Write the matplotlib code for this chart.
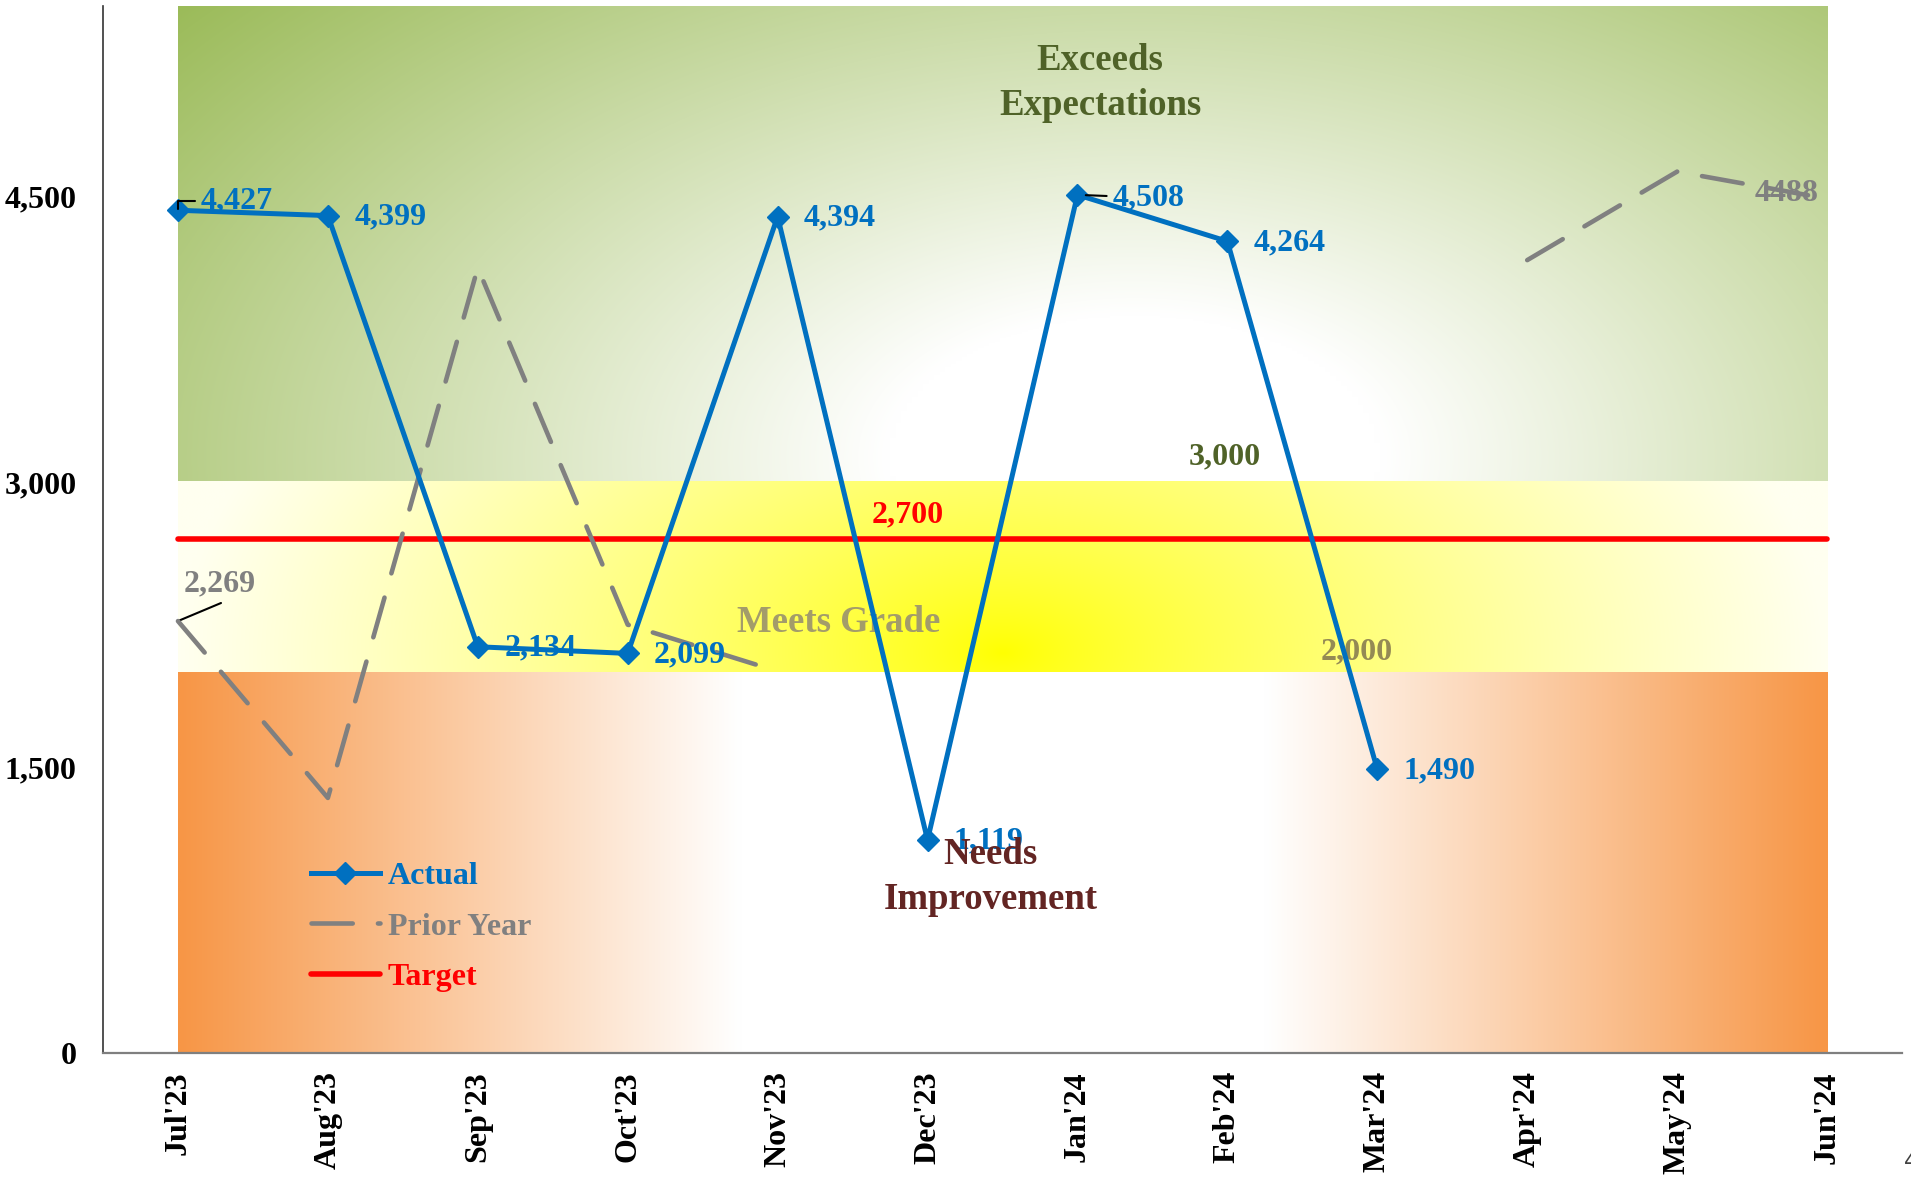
# Actual vs Prior Year vs Target with graded performance bands
import numpy as np
import matplotlib
matplotlib.use('Agg')
import matplotlib.pyplot as plt

# ---------------- data ----------------
months = ["Jul'23", "Aug'23", "Sep'23", "Oct'23", "Nov'23", "Dec'23",
          "Jan'24", "Feb'24", "Mar'24", "Apr'24", "May'24", "Jun'24"]
actual = [4427, 4399, 2134, 2099, 4394, 1119, 4508, 4264, 1490,
          np.nan, np.nan, np.nan]
prior_year = [2269, 1340, 4125, 2250, 2005, np.nan, np.nan, np.nan, np.nan,
              4165, 4630, 4488]
target = [2700] * 12
band_low = 2000      # needs improvement / meets grade
band_high = 3000     # meets grade / exceeds expectations
y_top = 5500
y_ticks = [0, 1500, 3000, 4500]

# ---------------- style ----------------
FONT = 'Liberation Serif'
plt.rcParams['font.family'] = [FONT, 'DejaVu Serif']
plt.rcParams['font.weight'] = 'bold'
FS = 23
BLUE = '#0070C0'
GREY = '#808080'
RED = '#FF0000'
GREEN = np.array([155, 187, 89]) / 255
ORANGE = np.array([247, 150, 70]) / 255
YELLOW = np.array([255, 255, 0]) / 255
PALE = np.array([255, 255, 240]) / 255
WHITE = np.array([1.0, 1.0, 1.0])

x = np.arange(len(months))

fig = plt.figure(figsize=(19.11, 11.81), dpi=100)
ax = fig.add_axes([103 / 1911, 128 / 1181, 1799 / 1911, 1047 / 1181])


# ---------------- gradient bands ----------------
def blend(c0, c1, t):
    return c0[None, None, :] * (1 - t[..., None]) + c1[None, None, :] * t[..., None]


n = 300
u, v = np.meshgrid(np.linspace(0, 1, n), np.linspace(0, 1, n))

# green: radial, white near the bottom middle
t = np.sqrt(((u - 0.58) / 0.75) ** 2 + ((v - 0.05) / 1.5) ** 2)
t = np.clip((t - 0.2) / 0.8, 0, 1)
ax.imshow(blend(WHITE, GREEN, t), extent=[0, 11, band_high, y_top],
          origin='lower', aspect='auto', zorder=0, interpolation='bilinear')

# yellow: bright in the middle, pale at the sides
t = np.sqrt(((u - 0.5) / 0.5) ** 2 + ((v - 0.1) / 2.5) ** 2)
t = np.clip(t, 0, 1) ** 0.8
ax.imshow(blend(YELLOW, PALE, t), extent=[0, 11, band_low, band_high],
          origin='lower', aspect='auto', zorder=0, interpolation='bilinear')

# orange: white in the middle, orange at the sides
t = np.clip((np.abs(u - 0.5) - 0.16) / 0.34, 0, 1)
ax.imshow(blend(WHITE, ORANGE, t), extent=[0, 11, 0, band_low],
          origin='lower', aspect='auto', zorder=0, interpolation='bilinear')

# ---------------- series ----------------
ax.plot(x, target, color=RED, lw=4, solid_capstyle='round', zorder=3, label='Target')
ax.plot(x, prior_year, color=GREY, lw=3.3, dashes=(9, 5.5), dash_capstyle='round',
        zorder=4, label='Prior Year')
ax.plot(x, actual, color=BLUE, lw=3.6, marker='D', ms=11, zorder=5, label='Actual')

# data labels - actual
for i, val in enumerate(actual):
    if np.isnan(val):
        continue
    txt = f'{val:,.0f}'
    if i == 0:
        ax.annotate(txt, (x[i], val), xytext=(16, 7), textcoords='offset points',
                    ha='left', va='center', color=BLUE, fontsize=FS, zorder=6,
                    arrowprops=dict(arrowstyle='-', color='black', lw=1.5,
                                    connectionstyle='angle,angleA=0,angleB=90,rad=0',
                                    shrinkA=2, shrinkB=1))
    elif i == 6:
        ax.annotate(txt, (x[i], val), xytext=(25, -2), textcoords='offset points',
                    ha='left', va='center', color=BLUE, fontsize=FS, zorder=6,
                    arrowprops=dict(arrowstyle='-', color='black', lw=1.5,
                                    shrinkA=2, shrinkB=6))
    else:
        ax.annotate(txt, (x[i], val), xytext=(19, -1), textcoords='offset points',
                    ha='left', va='center', color=BLUE, fontsize=FS, zorder=6)

# data labels - prior year (first and last only)
ax.annotate(f'{prior_year[0]:,.0f}', (x[0], prior_year[0]), xytext=(30, 27),
            textcoords='offset points', ha='center', va='center', color=GREY,
            fontsize=FS, zorder=2)
ax.annotate('', (x[0], prior_year[0]), xytext=(31, 13), textcoords='offset points',
            arrowprops=dict(arrowstyle='-', color='black', lw=1.5, shrinkA=0, shrinkB=0),
            zorder=2)
ax.annotate(f'{prior_year[-1]:.0f}', (x[-1], prior_year[-1]), xytext=(-6, 4),
            textcoords='offset points', ha='right', va='center', color=GREY,
            fontsize=FS, zorder=2)

# band / target labels
ax.text(6.98, 3132, f'{band_high:,}', color='#4F6228', fontsize=FS,
        ha='center', va='center', zorder=2)
ax.text(7.86, 2105, f'{band_low:,}', color='#948A54', fontsize=FS,
        ha='center', va='center', zorder=2)
ax.text(4.87, 2826, f'{target[0]:,}', color=RED, fontsize=FS,
        ha='center', va='center', zorder=2)
ax.text(4.41, 2263, 'Meets Grade', color='#A39C6A', fontsize=26.5,
        ha='center', va='center', zorder=2)
ax.text(6.15, 5095, 'Exceeds\nExpectations', color='#4F6228', fontsize=26.5,
        ha='center', va='center', linespacing=1.4, zorder=2)
ax.text(5.42, 925, 'Needs\nImprovement', color='#632523', fontsize=26.5,
        ha='center', va='center', linespacing=1.4, zorder=7)

# ---------------- axes ----------------
ax.set_xlim(-0.5, 11.5)
ax.set_ylim(0, y_top)
ax.set_xticks(x)
ax.set_xticklabels(months, rotation=90, fontsize=FS)
ax.set_yticks(y_ticks)
ax.set_yticklabels([f'{t:,}' for t in y_ticks], fontsize=FS)
ax.tick_params(axis='x', length=0, pad=13)
ax.tick_params(axis='y', length=0, pad=19)
ax.spines['top'].set_visible(False)
ax.spines['right'].set_visible(False)
ax.spines['left'].set_color('#333333')
ax.spines['left'].set_linewidth(1.2)
ax.spines['bottom'].set_color('#7F7F7F')
ax.spines['bottom'].set_linewidth(1.6)

handles, labels = ax.get_legend_handles_labels()
order = [2, 1, 0]
ax.legend([handles[k] for k in order], [labels[k] for k in order],
          loc='upper left', bbox_to_anchor=(0.1156, 0.183), frameon=False,
          fontsize=FS, labelcolor='linecolor', handlelength=2.15,
          handletextpad=0.25, labelspacing=0.67, borderpad=0, borderaxespad=0)

fig.text(1904 / 1911, 19 / 1181, '4', family='DejaVu Sans', fontweight='normal',
         fontsize=16, color='#404040', ha='left', va='center')

fig.savefig('out.png', dpi=100)
